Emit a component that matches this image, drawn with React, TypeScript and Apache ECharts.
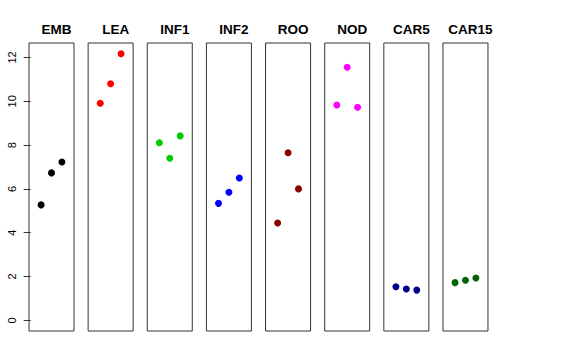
import React, { useEffect, useRef } from "react";
import * as echarts from "echarts";

const categories = ["EMB", "LEA", "INF1", "INF2", "ROO", "NOD", "CAR5", "CAR15"];
const colors = ["#000000", "#ff0000", "#00cd00", "#0000ff", "#8b0000", "#ff00ff", "#00008b", "#006400"];
const EMB = [5.27, 6.73, 7.23];
const LEA = [9.91, 10.8, 12.17];
const INF1 = [8.11, 7.4, 8.42];
const INF2 = [5.34, 5.85, 6.5];
const ROO = [4.44, 7.65, 6.0];
const NOD = [9.83, 11.55, 9.73];
const CAR5 = [1.53, 1.43, 1.38];
const CAR15 = [1.72, 1.83, 1.93];
const seriesValues = [EMB, LEA, INF1, INF2, ROO, NOD, CAR5, CAR15];
const yTicks = [0, 2, 4, 6, 8, 10, 12];

export default function App() {
  const ref = useRef<HTMLDivElement>(null);
  useEffect(() => {
    if (!ref.current) return;
    const chart = echarts.init(ref.current, undefined, { renderer: "svg" });
    const pitch = 59.14;
    const left0 = 29;
    const w = 45;
    const top = 43;
    const h = 288;
    const font = "'Liberation Sans', Arial, Helvetica, sans-serif";
    const grids = categories.map((_, i) => ({
      left: left0 + i * pitch,
      top,
      width: w,
      height: h,
      show: true,
      borderColor: "#333",
      borderWidth: 1,
      backgroundColor: "transparent",
    }));
    const xAxes = categories.map((_, i) => ({
      type: "value",
      gridIndex: i,
      min: -0.16,
      max: 4.16,
      show: false,
    }));
    const yAxes = categories.map((_, i) => ({
      type: "value",
      gridIndex: i,
      min: -0.487,
      max: 12.66,
      show: i === 0,
      splitLine: { show: false },
      axisLine: { show: false },
      axisTick: {
        show: i === 0,
        customValues: yTicks,
        length: 7,
        lineStyle: { color: "#333" },
      },
      axisLabel: {
        show: i === 0,
        customValues: yTicks,
        rotate: 90,
        margin: 12,
        color: "#000",
        fontSize: 11,
        fontFamily: font,
      },
    }));
    const series = categories.map((_, i) => ({
      type: "scatter",
      xAxisIndex: i,
      yAxisIndex: i,
      symbol: "circle",
      symbolSize: 7,
      itemStyle: { color: colors[i], opacity: 1 },
      data: seriesValues[i].map((v, j) => [j + 1, v]),
    }));
    const titles = categories.map((c, i) => ({
      text: c,
      left: left0 + i * pitch + w / 2,
      top: 17,
      textAlign: "center",
      textStyle: { fontSize: 13.5, fontWeight: "bold", color: "#000", fontFamily: font },
    }));
    chart.setOption({
      animation: false,
      backgroundColor: "#fff",
      title: titles,
      grid: grids,
      xAxis: xAxes,
      yAxis: yAxes,
      series,
    });
    return () => chart.dispose();
  }, []);
  return (
    <div
      ref={ref}
      style={{ position: "fixed", left: 0, top: 0, width: 576, height: 360 }}
    />
  );
}
